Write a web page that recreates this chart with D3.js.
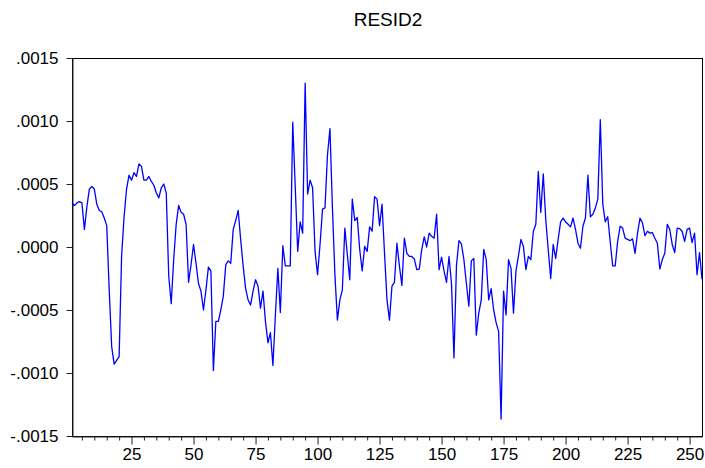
<!DOCTYPE html>
<html>
<head>
<meta charset="utf-8">
<script src="https://cdn.jsdelivr.net/npm/d3@7"></script>
<style>
  html, body { margin: 0; padding: 0; background: #fff; }
  svg { display: block; font-family: "Liberation Sans", Arial, sans-serif; }
</style>
</head>
<body>
<svg id="chart" width="705" height="468"></svg>
<script>
// Series RESID2 (values in units of 1e-4), observations 1..255
const resid2E4 = [
  3.5, 3.3, 3.5, 3.6, 3.5, 1.4, 3.2, 4.6, 4.8, 4.6,
  3.4, 2.9, 2.8, 2.3, 1.7, -3.4, -7.9, -9.3, -9.0, -8.7,
  -0.7, 2.4, 4.6, 5.7, 5.3, 5.9, 5.6, 6.6, 6.4, 5.3,
  5.3, 5.6, 5.2, 4.9, 4.3, 3.9, 4.7, 5.0, 4.3, -2.3,
  -4.5, -1.0, 1.8, 3.3, 2.75, 2.6, 1.8, -2.8, -1.4, 0.2,
  -1.3, -2.9, -3.5, -5.0, -3.4, -1.6, -1.9, -9.8, -5.9, -5.9,
  -5.0, -3.9, -1.4, -1.1, -1.3, 1.4, 2.1, 2.9, 0.6, -1.5,
  -3.3, -4.2, -4.6, -3.5, -2.6, -3.1, -4.85, -3.5, -5.9, -7.6,
  -6.8, -9.4, -5.4, -1.7, -5.2, 0.1, -1.5, -1.5, -1.5, 9.9,
  4.8, -0.35, 2.0, 1.1, 13.0, 4.2, 5.3, 4.7, -0.35, -2.2,
  0.2, 3.0, 3.1, 7.3, 9.4, 3.1, -2.2, -5.8, -4.2, -3.4,
  1.5, -0.6, -2.6, 3.8, 2.1, 2.35, -0.2, -1.9, 0.05, -0.35,
  1.6, 1.25, 4.0, 3.8, 1.7, 3.4, -0.5, -4.2, -5.8, -3.1,
  -2.8, 0.3, -1.5, -3.05, 0.7, -0.5, -0.75, -0.75, -0.95, -1.8,
  -1.75, -0.2, 0.8, 0.0, 1.1, 0.85, 0.7, 2.6, -1.8, -0.8,
  -1.9, -2.8, -0.75, -2.9, -8.8, -1.5, 0.5, 0.25, -1.0, -2.9,
  -4.7, -1.1, -0.9, -7.0, -5.25, -4.2, -0.2, -1.0, -4.2, -3.3,
  -5.0, -6.0, -6.7, -13.65, -3.5, -5.4, -1.0, -1.7, -5.25, -1.9,
  -0.7, 0.6, 0.05, -1.8, -0.75, -1.0, 1.25, 1.8, 6.0, 2.75,
  5.8, 2.2, -0.2, -2.5, 0.2, -0.9, 0.6, 2.0, 2.3, 2.0,
  1.8, 1.6, 2.3, 1.4, 0.3, -0.1, 1.65, 2.3, 5.7, 2.4,
  2.6, 3.1, 3.8, 10.1, 3.4, 2.0, 2.4, 0.4, -1.5, -1.5,
  0.45, 1.65, 1.5, 0.7, 0.6, 0.5, 0.65, -0.5, 1.1, 2.3,
  1.9, 0.9, 1.25, 1.1, 1.15, 0.7, 0.3, -1.75, -1.0, -0.5,
  1.8, 1.4, 0.2, -0.45, 1.5, 1.45, 1.25, 0.45, 1.4, 1.5,
  0.35, 1.1, -2.2, -0.45, -2.55
];
const chartTitle = "RESID2";
const yTickValues = [0.0015, 0.0010, 0.0005, 0.0, -0.0005, -0.0010, -0.0015];
const yTickLabels = [".0015", ".0010", ".0005", ".0000", "-.0005", "-.0010", "-.0015"];
const xMajorTicks = [25, 50, 75, 100, 125, 150, 175, 200, 225, 250];
const xMinorStep = 5;

(function () {
  const data = resid2E4.map((v, i) => ({ obs: i + 1, value: v * 1e-4 }));

  const svg = d3.select("#chart");
  const mL = 72, mR = 702, mT = 58, mB = 436;
  const fontFam = "'Liberation Sans', Arial, sans-serif";

  const x = d3.scaleLinear().domain([1, data.length]).range([mL, mR]);
  const y = d3.scaleLinear().domain([-0.0015, 0.0015]).range([mB, mT]);

  // title
  svg.append("text")
    .attr("x", (mL + mR) / 2 + 1)
    .attr("y", 26)
    .attr("text-anchor", "middle")
    .attr("font-size", 19)
    .attr("font-family", fontFam)
    .attr("fill", "#000")
    .text(chartTitle);

  // frame
  svg.append("rect")
    .attr("x", mL + 0.5).attr("y", mT + 0.5)
    .attr("width", mR - mL).attr("height", mB - mT)
    .attr("fill", "none").attr("stroke", "#000").attr("stroke-width", 1);

  // y axis
  const yAxis = d3.axisLeft(y)
    .tickValues(yTickValues)
    .tickFormat((d, i) => yTickLabels[i])
    .tickSize(6).tickSizeOuter(0).tickPadding(8);
  const gy = svg.append("g").attr("transform", `translate(${mL + 0.5},0)`).call(yAxis);
  gy.select(".domain").attr("stroke", "#222");
  gy.selectAll(".tick line").attr("stroke", "#222");
  gy.selectAll("text").attr("font-size", 17).attr("fill", "#000")
    .attr("font-family", fontFam);

  // x minor ticks
  const minorVals = d3.range(xMinorStep, data.length, xMinorStep).filter(v => !xMajorTicks.includes(v));
  const xMinor = d3.axisBottom(x).tickValues(minorVals).tickFormat("").tickSize(4).tickSizeOuter(0);
  const gxm = svg.append("g").attr("transform", `translate(0,${mB + 0.5})`).call(xMinor);
  gxm.select(".domain").remove();
  gxm.selectAll(".tick line").attr("stroke", "#222");

  // x major axis
  const xAxis = d3.axisBottom(x).tickValues(xMajorTicks).tickSize(8).tickSizeOuter(0).tickPadding(3);
  const gx = svg.append("g").attr("transform", `translate(0,${mB + 0.5})`).call(xAxis);
  gx.select(".domain").attr("stroke", "#222");
  gx.selectAll(".tick line").attr("stroke", "#222");
  gx.selectAll("text").attr("font-size", 17).attr("fill", "#000")
    .attr("font-family", fontFam);

  // line
  const line = d3.line().x(d => x(d.obs)).y(d => y(d.value));
  svg.append("path")
    .datum(data)
    .attr("fill", "none")
    .attr("stroke", "#0000ff")
    .attr("stroke-width", 1.3)
    .attr("stroke-linejoin", "round")
    .attr("d", line);
})();
</script>
</body>
</html>
